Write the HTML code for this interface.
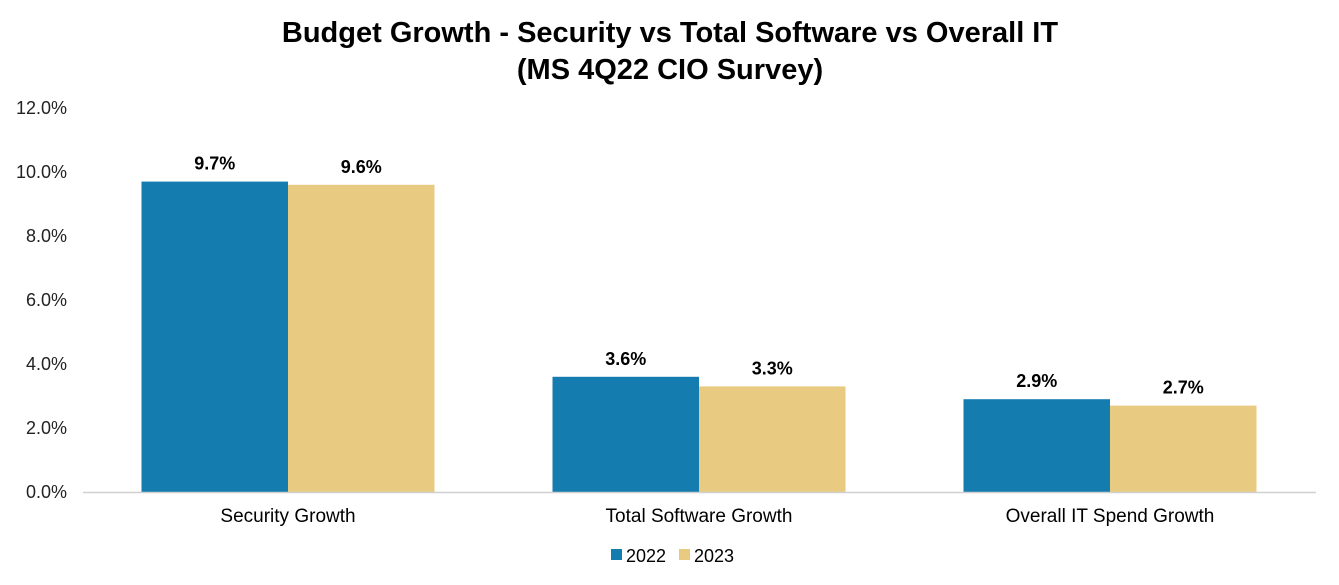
<!DOCTYPE html>
<html><head><meta charset="utf-8"><style>
body{margin:0;background:#fff;}
svg{display:block;font-family:"Liberation Sans",Arial,sans-serif;}
</style></head><body>
<svg id="chart" width="1339" height="585">
<text x="670" y="42" text-anchor="middle" font-size="29" font-weight="bold" fill="#000">Budget Growth - Security vs Total Software vs Overall IT</text>
<text x="670" y="79" text-anchor="middle" font-size="29" font-weight="bold" fill="#000">(MS 4Q22 CIO Survey)</text>
<g id="yaxis"></g>
<g id="bars"></g>
<line x1="83" y1="492.5" x2="1316" y2="492.5" stroke="#d0d0d0" stroke-width="1.5"/>
<g id="xaxis"></g>
<g>
<g><rect x="611" y="549" width="11" height="11" fill="#157CB0"/><text x="626" y="562" font-size="18" fill="#000">2022</text></g>
<g><rect x="679" y="549" width="11" height="11" fill="#E8CB80"/><text x="694" y="562" font-size="18" fill="#000">2023</text></g>
</g>
</svg>
<script>
const categories=["Security Growth","Total Software Growth","Overall IT Spend Growth"];
const series2022=[9.7,3.6,2.9];
const series2023=[9.6,3.3,2.7];
const yTicks=[0,2,4,6,8,10,12];
const NS="http://www.w3.org/2000/svg";
const x0=82.5,catW=411,barW=146.5,y0=492,pxPer=32;
const y=v=>y0-v*pxPer;
const yax=document.getElementById('yaxis'),bars=document.getElementById('bars'),xax=document.getElementById('xaxis');
function mk(t,a,p){const e=document.createElementNS(NS,t);for(const k in a)e.setAttribute(k,a[k]);p.appendChild(e);return e;}
yTicks.forEach(v=>{const t=mk('text',{x:67,y:y(v)+6,'text-anchor':'end','font-size':18,fill:'#222'},yax);


t.textContent=v.toFixed(1)+'%';});
categories.forEach((c,i)=>{const cx=x0+catW*(i+0.5);
[[series2022,'#157CB0',-1],[series2023,'#E8CB80',0]].forEach(([s,col,o])=>{
const bx=cx+o*barW;const r=mk('rect',{x:bx,y:y(s[i]),width:barW,height:y0-y(s[i]),fill:col},bars);


const l=mk('text',{x:bx+barW/2,y:y(s[i])-12,'text-anchor':'middle','font-size':18,'font-weight':'bold',fill:'#000'},bars);


l.textContent=s[i].toFixed(1)+'%';});
const t=mk('text',{x:cx,y:522,'text-anchor':'middle','font-size':19,fill:'#000'},xax);


t.textContent=c;});
</script>
</body></html>
